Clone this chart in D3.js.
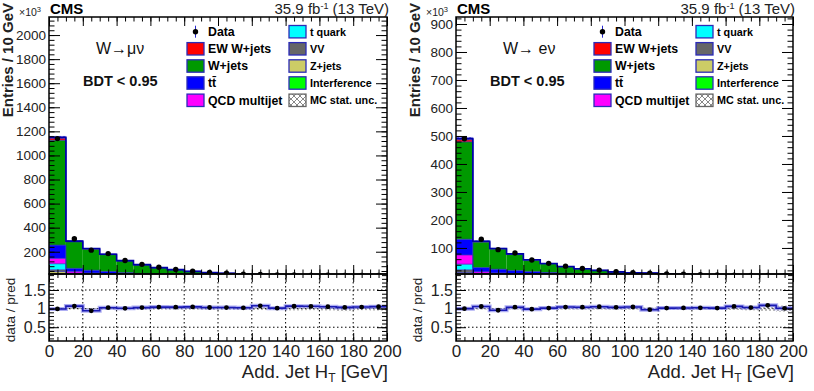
<!DOCTYPE html>
<html><head><meta charset="utf-8">
<script src="https://cdn.jsdelivr.net/npm/d3@7/dist/d3.min.js"></script>
<style>
body{margin:0;background:#fff}
svg{display:block;font-family:"Liberation Sans",Arial,Helvetica,sans-serif}
</style>
</head><body>
<svg id="c" width="814" height="391"></svg>
<script>
// ---------------- data (entries in units of 10^3 per 10 GeV) ----------------
const binEdges = [0,10,20,30,40,50,60,70,80,90,100,110,120,130,140,150,160,170,180,190,200];
const xTicks = [0,20,40,60,80,100,120,140,160,180,200];
const muYTicks = [200,400,600,800,1000,1200,1400,1600,1800,2000];
const eYTicks = [100,200,300,400,500,600,700,800,900];
const ratioTicks = [0.5,1,1.5];

// Muon channel
const muZjets  = [35,12,8,6,4,3,2.5,2,1.5,1.2,1,0.8,0.6,0.5,0.4,0.3,0.3,0.2,0.2,0.2];
const muVV     = [15,4,3,2.5,2,1.5,1.2,1,0.8,0.6,0.5,0.4,0.3,0.3,0.2,0.2,0.2,0.1,0.1,0.1];
const muTquark = [50,6,5,4,3,2.5,2,1.5,1.2,1,0.8,0.6,0.5,0.4,0.3,0.3,0.2,0.2,0.2,0.1];
const muQCD    = [45,15,8,5,3,2,1.5,1,0.8,0.6,0.5,0.4,0.3,0.3,0.2,0.2,0.2,0.1,0.1,0.1];
const muTT     = [110,25,22,18,14,11,9,7,5.5,4.5,3.5,3,2.5,2,1.6,1.3,1.1,0.9,0.7,0.6];
const muWjets  = [871,220,175,140,97,70,50,37,26,18,14,7.7,5.8,4.1,3.0,2.2,1.8,1.3,0.9,0.7];
const muEW     = [22,6,5,4,3,2.5,2,1.5,1.2,1,0.8,0.6,0.5,0.4,0.3,0.3,0.2,0.2,0.2,0.1];
const muInterf = [2,0.5,0.4,0,0,0,0,0,0,0,0,0,0,0,0,0,0,0,0,0];
const muUnc    = [12,6,4,3.5,2.5,2,1.5,1.2,1,0.8,0.6,0.5,0.4,0.3,0.3,0.2,0.2,0.2,0.1,0.1];
const muData   = [1140,308,213,184,127,95,71,53,38.7,27.7,21.7,13.8,11.3,8.1,6.4,5.1,4.2,3.1,2.5,2.0];

// Electron channel
const eZjets  = [12,4,3,2.5,2,1.5,1.2,1,0.8,0.6,0.5,0.4,0.3,0.3,0.2,0.2,0.2,0.1,0.1,0.1];
const eVV     = [10,2,1.5,1.2,1,0.8,0.6,0.5,0.4,0.3,0.3,0.2,0.2,0.2,0.1,0.1,0.1,0.1,0.1,0.1];
const eTquark = [20,3,2.5,2,1.6,1.3,1,0.8,0.6,0.5,0.4,0.3,0.3,0.2,0.2,0.1,0.1,0.1,0.1,0.1];
const eQCD    = [33,6,4,2.5,1.8,1.2,0.9,0.6,0.5,0.4,0.3,0.2,0.2,0.1,0.1,0.1,0.1,0.1,0.1,0.1];
const eTT     = [56,15,13,11,9,7.5,6,5,4,3.2,2.6,2.2,1.8,1.4,1.1,0.9,0.7,0.6,0.4,0.3];
const eWjets  = [348,91,72,58,41,31,23,17.4,13.1,9,7,6.7,4.5,3.4,2.7,2,1.4,1,0.7,0.4];
const eEW     = [10,2.5,2,1.6,1.2,1,0.8,0.6,0.5,0.4,0.3,0.2,0.2,0.2,0.1,0.1,0.1,0.1,0.1,0.1];
const eInterf = [1.5,0.4,0.3,0.2,0.2,0.1,0.1,0.1,0.1,0.1,0.1,0.1,0,0,0,0,0,0,0,0];
const eUnc    = [6,3,2,1.6,1.2,1,0.8,0.6,0.5,0.4,0.3,0.3,0.2,0.2,0.1,0.1,0.1,0.1,0.1,0.1];
const eData   = [490,131,94,82,57,45,35,27,21,15,12,10,7.6,5.9,4.6,3.55,2.86,2.16,1.74,1.21];

const colors = {zjets:"#cccc66", vv:"#666666", tquark:"#00ffff", qcd:"#ff00ff", tt:"#0000ff",
                wjets:"#009900", ew:"#ff0000", interf:"#00ff00"};
const legendLabels = ["Data","EW W+jets","W+jets","t\u0074\u0304","QCD multijet","t quark","VV","Z+jets","Interference","MC stat. unc."];

// ---------------- layout ----------------
const MT = 17, MB = 274, RT = 274, RB = 341;
const svg = d3.select("#c");
const defs = svg.append("defs");
const hb = defs.append("pattern").attr("id","hatchBlue").attr("width",4).attr("height",4).attr("patternUnits","userSpaceOnUse");
hb.append("rect").attr("width",4).attr("height",4).attr("fill","rgba(110,110,240,0.55)");
hb.append("path").attr("d","M0,0L4,4M4,0L0,4").attr("stroke","#3a3ad0").attr("stroke-width",0.6);
const hg = defs.append("pattern").attr("id","hatchGrey").attr("width",4).attr("height",4).attr("patternUnits","userSpaceOnUse");
hg.append("path").attr("d","M0,0L4,4M4,0L0,4").attr("stroke","#888").attr("stroke-width",0.6);
const hl = defs.append("pattern").attr("id","hatchLeg").attr("width",6).attr("height",6).attr("patternUnits","userSpaceOnUse");
hl.append("rect").attr("width",6).attr("height",6).attr("fill","#fff");
hl.append("path").attr("d","M0,0L6,6M6,0L0,6").attr("stroke","#555").attr("stroke-width",0.7);

function styleAxis(sel){
  sel.select(".domain").remove();
  sel.selectAll(".tick line").attr("stroke","#000").attr("stroke-width",1);
  sel.selectAll("text").attr("fill","#222");
}

function drawPanel(p){
  const x = d3.scaleLinear().domain([0,200]).range([p.x0,p.x1]);
  const y = d3.scaleLinear().domain([p.ymin,p.ymax]).range([MB,MT]);
  const yr = d3.scaleLinear().domain([0.13,1.93]).range([RB,RT]);
  const W = p.x1-p.x0;

  defs.append("clipPath").attr("id","clipM"+p.id).append("rect")
    .attr("x",p.x0).attr("y",MT).attr("width",W).attr("height",MB-MT);
  defs.append("clipPath").attr("id","clipR"+p.id).append("rect")
    .attr("x",p.x0).attr("y",RT).attr("width",W).attr("height",RB-RT);

  const keys = p.series.map(s=>s.key);
  const table = p.data.map((d,i)=>{const o={}; p.series.forEach(s=>o[s.key]=s.values[i]); return o;});
  const layers = d3.stack().keys(keys)(table);
  const total = table.map(o=>d3.sum(keys,k=>o[k]));

  const plot = svg.append("g").attr("clip-path",`url(#clipM${p.id})`);
  layers.forEach((layer,k)=>{
    plot.append("g").selectAll("rect").data(layer).join("rect")
      .attr("x",(d,i)=>x(binEdges[i])).attr("width",(d,i)=>x(binEdges[i+1])-x(binEdges[i]))
      .attr("y",d=>y(d[1])).attr("height",d=>Math.max(0,y(d[0])-y(d[1])))
      .attr("fill",colors[keys[k]]);
  });
  const step = vals => {
    const pts=[]; vals.forEach((v,i)=>{pts.push([x(binEdges[i]),y(v)]);pts.push([x(binEdges[i+1]),y(v)]);});
    return d3.line()(pts);
  };
  layers.forEach(layer=>{
    plot.append("path").attr("d",step(layer.map(d=>d[1]))).attr("fill","none")
      .attr("stroke","#2b2bb8").attr("stroke-width",0.7);
  });
  plot.append("g").selectAll("rect").data(total).join("rect")
    .attr("x",(d,i)=>x(binEdges[i])).attr("width",(d,i)=>x(binEdges[i+1])-x(binEdges[i]))
    .attr("y",(d,i)=>y(d+p.unc[i])).attr("height",(d,i)=>Math.max(0,y(d-p.unc[i])-y(d+p.unc[i])))
    .attr("fill","url(#hatchBlue)");
  plot.append("path").attr("d",step(total)).attr("fill","none").attr("stroke","#0000a8").attr("stroke-width",1.6);
  plot.append("g").selectAll("circle").data(p.data).join("circle")
    .attr("cx",(d,i)=>x((binEdges[i]+binEdges[i+1])/2)).attr("cy",d=>y(d)).attr("r",2.7).attr("fill","#000");

  // ---- ratio panel ----
  const rp = svg.append("g").attr("clip-path",`url(#clipR${p.id})`);
  const ratio = p.data.map((d,i)=>d/total[i]);
  rp.append("g").selectAll("line").data(xTicks.slice(1,-1)).join("line")
    .attr("x1",d=>x(d)).attr("x2",d=>x(d)).attr("y1",RT).attr("y2",RB)
    .attr("stroke","#000").attr("stroke-width",1).attr("stroke-dasharray","1.5,2.5");
  rp.append("g").selectAll("line").data(ratioTicks).join("line")
    .attr("x1",p.x0).attr("x2",p.x1).attr("y1",d=>yr(d)).attr("y2",d=>yr(d))
    .attr("stroke","#000").attr("stroke-width",1).attr("stroke-dasharray","1.5,2.5");
  const ru = (d,i)=>Math.max(0.012,p.unc[i]/d);
  rp.append("g").selectAll("rect").data(total).join("rect")
    .attr("x",(d,i)=>x(binEdges[i])).attr("width",(d,i)=>x(binEdges[i+1])-x(binEdges[i]))
    .attr("y",(d,i)=>yr(1+ru(d,i))).attr("height",(d,i)=>yr(1-ru(d,i))-yr(1+ru(d,i)))
    .attr("fill","url(#hatchGrey)");
  const rstep = () => {const pts=[]; ratio.forEach((v,i)=>{pts.push([x(binEdges[i]),yr(v)]);pts.push([x(binEdges[i+1]),yr(v)]);}); return d3.line()(pts);};
  rp.append("path").attr("d",rstep()).attr("fill","none").attr("stroke","rgba(120,120,235,0.6)").attr("stroke-width",4);
  rp.append("path").attr("d",rstep()).attr("fill","none").attr("stroke","#1a1ab4").attr("stroke-width",1.6);
  rp.append("g").selectAll("circle").data(ratio).join("circle")
    .attr("cx",(d,i)=>x((binEdges[i]+binEdges[i+1])/2)).attr("cy",d=>yr(d)).attr("r",2.4).attr("fill","#000");

  // ---- axes ----
  const minorX = d3.range(0,201,5);
  styleAxis(svg.append("g").attr("transform",`translate(0,${MB})`).call(d3.axisBottom(x).tickValues(minorX).tickSize(-4.5).tickFormat("")));
  styleAxis(svg.append("g").attr("transform",`translate(0,${MB})`).call(d3.axisBottom(x).tickValues(xTicks).tickSize(-9).tickFormat("")));
  styleAxis(svg.append("g").attr("transform",`translate(0,${MT})`).call(d3.axisTop(x).tickValues(minorX).tickSize(-4.5).tickFormat("")));
  styleAxis(svg.append("g").attr("transform",`translate(0,${MT})`).call(d3.axisTop(x).tickValues(xTicks).tickSize(-9).tickFormat("")));
  const minorY = d3.range(p.minorStep, p.ymax, p.minorStep).filter(v=>v>p.ymin);
  styleAxis(svg.append("g").attr("transform",`translate(${p.x0},0)`).call(d3.axisLeft(y).tickValues(minorY).tickSize(-5.5).tickFormat("")));
  const ya = svg.append("g").attr("transform",`translate(${p.x0},0)`)
    .call(d3.axisLeft(y).tickValues(p.yTicks).tickSize(-11).tickPadding(3).tickFormat(d3.format("d")));
  styleAxis(ya); ya.selectAll("text").attr("font-size",13.5).attr("font-family","Liberation Sans, Arial");
  styleAxis(svg.append("g").attr("transform",`translate(${p.x1},0)`).call(d3.axisRight(y).tickValues(minorY).tickSize(-5.5).tickFormat("")));
  styleAxis(svg.append("g").attr("transform",`translate(${p.x1},0)`).call(d3.axisRight(y).tickValues(p.yTicks).tickSize(-11).tickFormat("")));
  styleAxis(svg.append("g").attr("transform",`translate(0,${RB})`).call(d3.axisBottom(x).tickValues(minorX).tickSize(-4).tickFormat("")));
  const xa = svg.append("g").attr("transform",`translate(0,${RB})`)
    .call(d3.axisBottom(x).tickValues(xTicks).tickSize(-8).tickPadding(4).tickFormat(d3.format("d")));
  styleAxis(xa); xa.selectAll("text").attr("font-size",17).attr("font-family","Liberation Sans, Arial");
  styleAxis(svg.append("g").attr("transform",`translate(0,${RT})`).call(d3.axisTop(x).tickValues(minorX).tickSize(-4).tickFormat("")));
  styleAxis(svg.append("g").attr("transform",`translate(0,${RT})`).call(d3.axisTop(x).tickValues(xTicks).tickSize(-8).tickFormat("")));
  const minorR = d3.range(0.2,1.95,0.1);
  styleAxis(svg.append("g").attr("transform",`translate(${p.x0},0)`).call(d3.axisLeft(yr).tickValues(minorR).tickSize(-5).tickFormat("")));
  const ra = svg.append("g").attr("transform",`translate(${p.x0},0)`)
    .call(d3.axisLeft(yr).tickValues(ratioTicks).tickSize(-10).tickPadding(3).tickFormat(d=>String(d)));
  styleAxis(ra); ra.selectAll("text").attr("font-size",16).attr("font-family","Liberation Sans, Arial");
  styleAxis(svg.append("g").attr("transform",`translate(${p.x1},0)`).call(d3.axisRight(yr).tickValues(minorR).tickSize(-5).tickFormat("")));
  styleAxis(svg.append("g").attr("transform",`translate(${p.x1},0)`).call(d3.axisRight(yr).tickValues(ratioTicks).tickSize(-10).tickFormat("")));

  svg.append("rect").attr("x",p.x0).attr("y",MT).attr("width",W).attr("height",MB-MT).attr("fill","none").attr("stroke","#000").attr("stroke-width",1.5);
  svg.append("rect").attr("x",p.x0).attr("y",RT).attr("width",W).attr("height",RB-RT).attr("fill","none").attr("stroke","#000").attr("stroke-width",1.5);

  // ---- titles / text ----
  svg.append("text").attr("transform",`translate(${p.x0-36},3) rotate(-90)`).attr("text-anchor","end")
    .attr("font-size",15).attr("font-weight","bold").attr("fill","#222").text("Entries / 10 GeV");
  svg.append("text").attr("transform",`translate(${p.x0-34},310) rotate(-90)`).attr("text-anchor","middle")
    .attr("font-size",13.5).attr("fill","#222").text("data / pred");
  const t10 = svg.append("text").attr("x",p.x0-30).attr("y",16).attr("font-size",10.5).attr("fill","#222");
  t10.append("tspan").text("\u00d710");
  t10.append("tspan").attr("font-size",7.5).attr("dy",-4.5).text("3");
  svg.append("text").attr("x",p.x0+1).attr("y",13.5).attr("font-size",15).attr("font-weight","bold").text("CMS");
  const lumi = svg.append("text").attr("x",p.x1+2).attr("y",14).attr("text-anchor","end").attr("font-size",15).attr("fill","#222");
  lumi.append("tspan").text("35.9 fb");
  lumi.append("tspan").attr("font-size",9).attr("dy",-5).text("-1");
  lumi.append("tspan").attr("dy",5).text(" (13 TeV)");
  const xt = svg.append("text").attr("x",p.x1+1).attr("y",378).attr("text-anchor","end").attr("font-size",18.5).attr("fill","#222");
  xt.append("tspan").text("Add. Jet H");
  xt.append("tspan").attr("font-size",12).attr("dy",4).text("T");
  xt.append("tspan").attr("dy",-4).text(" [GeV]");
  svg.append("text").attr("x",p.x0+47).attr("y",54).attr("font-size",16).attr("fill","#111").text(p.channel);
  svg.append("text").attr("x",p.x0+34).attr("y",86).attr("font-size",14.5).attr("font-weight","bold").attr("fill","#111").text("BDT < 0.95");

  // ---- legend ----
  const c1 = p.x0+138, c2 = p.x0+240, rowY = [31.7,48.8,66,83,100.3];
  const leg = svg.append("g");
  leg.append("line").attr("x1",c1+8.5).attr("x2",c1+8.5).attr("y1",rowY[0]-6).attr("y2",rowY[0]+6).attr("stroke","#2a2ad0").attr("stroke-width",1);
  leg.append("circle").attr("cx",c1+8.5).attr("cy",rowY[0]).attr("r",2.7).attr("fill","#000");
  leg.append("text").attr("x",c1+21).attr("y",rowY[0]+4.3).attr("font-size",12.3).attr("font-weight","bold").text(legendLabels[0]);
  const col1 = [["ew",1],["wjets",2],["tt",3],["qcd",4]];
  col1.forEach(([k,li],j)=>{
    leg.append("rect").attr("x",c1).attr("y",rowY[j+1]-6.2).attr("width",17).attr("height",12.4).attr("fill",colors[k]).attr("stroke","#2b2bb8").attr("stroke-width",1.3);
    leg.append("text").attr("x",c1+21).attr("y",rowY[j+1]+4.3).attr("font-size",12.3).attr("font-weight","bold").text(legendLabels[li]);
  });
  const col2 = [["tquark",5],["vv",6],["zjets",7],["interf",8],["unc",9]];
  col2.forEach(([k,li],j)=>{
    leg.append("rect").attr("x",c2).attr("y",rowY[j]-6.2).attr("width",17).attr("height",12.4)
      .attr("fill",k==="unc"?"url(#hatchLeg)":colors[k]).attr("stroke",k==="unc"?"#666":"#2b2bb8").attr("stroke-width",1.3);
    leg.append("text").attr("x",c2+21).attr("y",rowY[j]+4).attr("font-size",10.8).attr("font-weight","bold").text(legendLabels[li]);
  });
}

drawPanel({id:"mu", x0:49, x1:387, ymin:15, ymax:2150, minorStep:40, yTicks:muYTicks,
  channel:"W\u2192\u03bc\u03bd", data:muData, unc:muUnc,
  series:[{key:"zjets",values:muZjets},{key:"vv",values:muVV},{key:"tquark",values:muTquark},{key:"qcd",values:muQCD},
          {key:"tt",values:muTT},{key:"wjets",values:muWjets},{key:"ew",values:muEW},{key:"interf",values:muInterf}]});
drawPanel({id:"e", x0:456, x1:793, ymin:7, ymax:925, minorStep:20, yTicks:eYTicks,
  channel:"W\u2192 e\u03bd", data:eData, unc:eUnc,
  series:[{key:"zjets",values:eZjets},{key:"vv",values:eVV},{key:"tquark",values:eTquark},{key:"qcd",values:eQCD},
          {key:"tt",values:eTT},{key:"wjets",values:eWjets},{key:"ew",values:eEW},{key:"interf",values:eInterf}]});
</script>
</body></html>
